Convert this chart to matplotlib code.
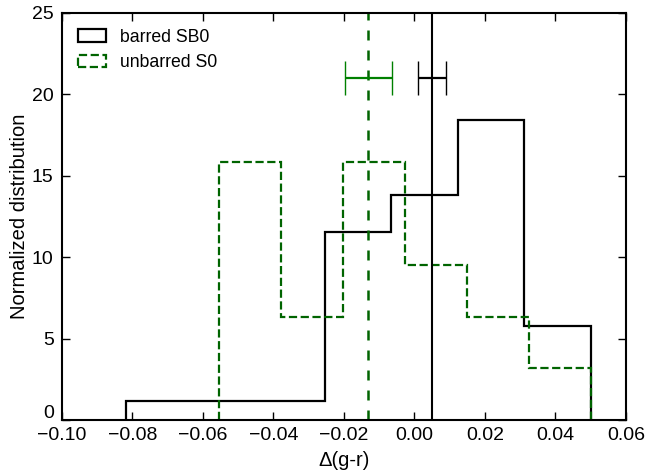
import numpy as np
import matplotlib
matplotlib.use('Agg')
import matplotlib.pyplot as plt
import matplotlib.transforms as mtransforms
from matplotlib.patches import Patch

plt.rcParams['font.family'] = ['Liberation Sans', 'DejaVu Sans']
plt.rcParams['xtick.direction'] = 'in'
plt.rcParams['ytick.direction'] = 'in'

# normalized histograms of colour offset
barred_edges = np.array([-0.0819, -0.0631, -0.0442, -0.0254, -0.0065,
                         0.0123, 0.0312, 0.0500])
barred_vals = np.array([1.15, 1.15, 1.15, 11.52, 13.82, 18.43, 5.76])

unbarred_edges = np.array([-0.0554, -0.0378, -0.0203, -0.0027, 0.0149,
                           0.0324, 0.0500])
unbarred_vals = np.array([15.81, 6.32, 15.81, 9.49, 6.32, 3.16])

# medians and their uncertainties
barred_med, barred_err = 0.0050, 0.0040
unbarred_med, unbarred_err = -0.0131, 0.0067
err_y = 21.0

GREEN = '#006400'

fig = plt.figure(figsize=(6.48, 4.74), dpi=100)
ax = fig.add_axes([0.0957, 0.114, 0.870, 0.859])

ax.stairs(barred_vals, barred_edges, color='k', lw=1.6)
ax.stairs(unbarred_vals, unbarred_edges, color=GREEN, lw=1.6, ls='--')

ax.axvline(barred_med, color='k', lw=1.5)
ax.axvline(unbarred_med, color=GREEN, lw=1.8, ls='--', dashes=(4, 4))

ax.errorbar([barred_med], [err_y], xerr=[barred_err], color='k', lw=1.6,
            capsize=12.5, capthick=1.0)
ax.errorbar([unbarred_med], [err_y], xerr=[unbarred_err], color='green',
            lw=1.6, capsize=12.5, capthick=1.0)

handles = [Patch(facecolor='none', edgecolor='k', lw=1.6),
           Patch(facecolor='none', edgecolor=GREEN, lw=1.6, ls='--')]
ax.legend(handles, ['barred SB0', 'unbarred S0'], loc='upper left',
          frameon=False, fontsize=12.7, handlelength=1.6, handletextpad=0.8,
          labelspacing=0.5, borderaxespad=0.5)

ax.set_xlim(-0.10, 0.06)
ax.set_ylim(0, 25)
ax.set_xticks(np.arange(-0.10, 0.061, 0.02))
ax.set_yticks(np.arange(0, 26, 5))
ax.tick_params(top=True, right=True, labelsize=14, length=6, width=1)
ax.tick_params(axis='x', pad=5)
ax.tick_params(axis='y', pad=6)
for s in ax.spines.values():
    s.set_linewidth(1.5)

# lift the "0" so it clears the x tick labels
lift = mtransforms.ScaledTranslation(0, 6 / 72, fig.dpi_scale_trans)
lbl0 = ax.get_yticklabels()[0]
lbl0.set_transform(lbl0.get_transform() + lift)

ax.set_xlabel('Δ(g-r)', fontsize=14.5, labelpad=5)
ax.set_ylabel('Normalized distribution', fontsize=14.5, labelpad=2)

fig.savefig('out.png', dpi=100)
